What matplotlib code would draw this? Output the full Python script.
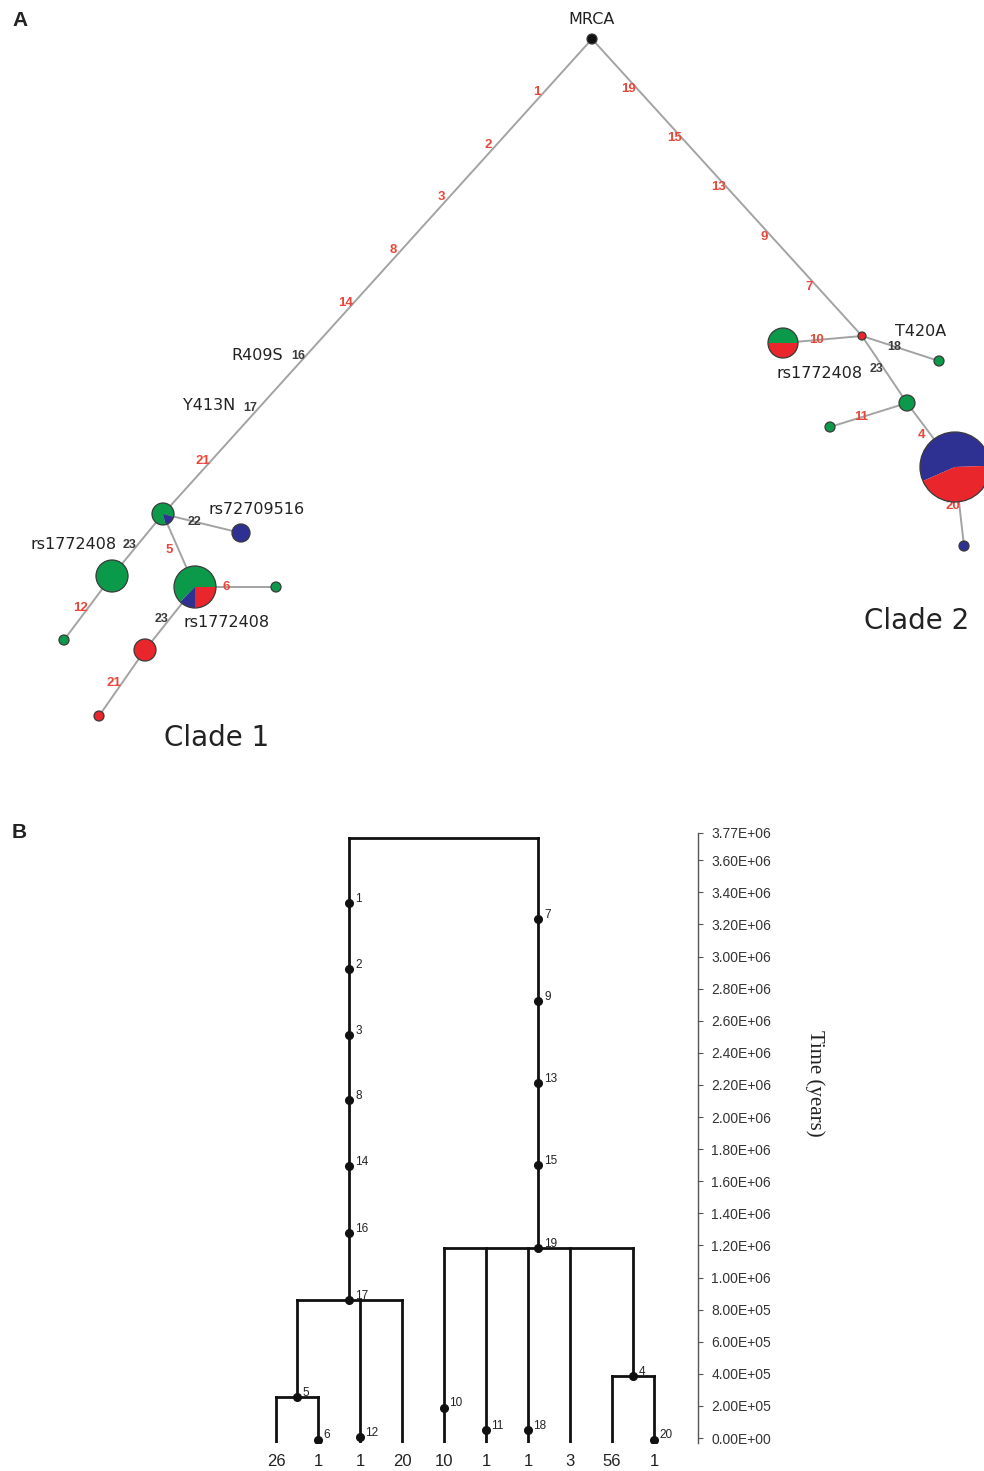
import matplotlib.pyplot as plt
from matplotlib.patches import Wedge, Circle
from matplotlib.transforms import blended_transform_factory

# ---------------- Panel A: haplotype network (data) ----------------
# haplotype composition: (colour, share) in drawing order
hap_comp = {
    'MRCA':         [('k', 1.0)],
    'c1':           [('g', 0.83), ('b', 0.17)],
    'c1_blue':      [('b', 1.0)],
    'c1_green':     [('g', 1.0)],
    'c1_green_tip': [('g', 1.0)],
    'c1_pie':       [('g', 0.625), ('b', 0.125), ('r', 0.25)],
    'c1_pie_tip':   [('g', 1.0)],
    'c1_red':       [('r', 1.0)],
    'c1_red_tip':   [('r', 1.0)],
    'c2':           [('r', 1.0)],
    'c2_half':      [('g', 0.5), ('r', 0.5)],
    'c2_tip18':     [('g', 1.0)],
    'c2_green':     [('g', 1.0)],
    'c2_tip11':     [('g', 1.0)],
    'c2_pie':       [('b', 0.56), ('r', 0.44)],
    'c2_tip20':     [('b', 1.0)],
}
# edges and the mutations on them
edges = [
    ('MRCA', 'c1', ['1', '2', '3', '8', '14', '16', '17', '21']),
    ('MRCA', 'c2', ['19', '15', '13', '9', '7']),
    ('c1', 'c1_blue', ['22']),
    ('c1', 'c1_green', ['23']),
    ('c1', 'c1_pie', ['5']),
    ('c1_green', 'c1_green_tip', ['12']),
    ('c1_pie', 'c1_pie_tip', ['6']),
    ('c1_pie', 'c1_red', ['23']),
    ('c1_red', 'c1_red_tip', ['21']),
    ('c2', 'c2_half', ['10']),
    ('c2', 'c2_tip18', ['18']),
    ('c2', 'c2_green', ['23']),
    ('c2_green', 'c2_tip11', ['11']),
    ('c2_green', 'c2_pie', ['4']),
    ('c2_pie', 'c2_tip20', ['20']),
]
dark_muts = {'16', '17', '18', '22', '23'}
hap_names = {'MRCA': 'MRCA', 'c1_blue': 'rs72709516', 'c1_green': 'rs1772408',
             'c1_pie': 'rs1772408', 'c2_half': 'rs1772408', 'c2_tip18': 'T420A'}
trunk_names = [('R409S', '16'), ('Y413N', '17')]

# ---------------- Panel A: layout (pixel space) ----------------
pos = {
    'MRCA': (592, 39), 'c1': (163, 514), 'c1_blue': (241, 533), 'c1_green': (112, 576),
    'c1_green_tip': (64, 640), 'c1_pie': (195, 587), 'c1_pie_tip': (276, 587),
    'c1_red': (145, 650), 'c1_red_tip': (99, 716), 'c2': (862, 336), 'c2_half': (783, 343),
    'c2_tip18': (939, 361), 'c2_green': (907, 403), 'c2_tip11': (830, 427),
    'c2_pie': (955, 467), 'c2_tip20': (964, 546),
}
radius = {
    'MRCA': 5, 'c1': 11, 'c1_blue': 9, 'c1_green': 16, 'c1_green_tip': 5, 'c1_pie': 21,
    'c1_pie_tip': 5, 'c1_red': 11, 'c1_red_tip': 5, 'c2': 4, 'c2_half': 15, 'c2_tip18': 5,
    'c2_green': 8, 'c2_tip11': 5, 'c2_pie': 35, 'c2_tip20': 5,
}
start_angle = {'c1': -15, 'c1_pie': 0, 'c2_half': 0, 'c2_pie': 2}
# label placement along single-mutation edges: (fraction, x shift)
edge_label_at = {
    'c1_blue': (0.4, 0), 'c1_green': (0.5, -8), 'c1_pie': (0.49, -9), 'c1_green_tip': (0.5, -7),
    'c1_pie_tip': (0.38, 0), 'c1_red': (0.51, -8), 'c1_red_tip': (0.5, -8),
    'c2_half': (0.58, 0), 'c2_tip18': (0.42, 0), 'c2_green': (0.5, -8),
    'c2_tip11': (0.6, 0), 'c2_pie': (0.5, -9), 'c2_tip20': (0.49, -7),
}
name_at = {'MRCA': (592, 19), 'c1_blue': (257, 510), 'c1_green': (74, 545),
           'c1_pie': (227, 623), 'c2_half': (820, 373), 'c2_tip18': (921, 331)}
trunk_name_at = {'R409S': (257, 355), 'Y413N': (209, 406)}

colours = {'g': '#0a9a4a', 'b': '#2e3192', 'r': '#e8262b', 'k': '#111111'}

W, H = 984, 1471
fig = plt.figure(figsize=(W / 100, H / 100), dpi=100)

axa = fig.add_axes([0, 1 - 790 / H, 1, 790 / H])
axa.set_xlim(0, W)
axa.set_ylim(790, 0)
axa.axis('off')

mut_font = ['Liberation Sans Narrow', 'Liberation Sans']
for a, b, muts in edges:
    (x0, y0), (x1, y1) = pos[a], pos[b]
    axa.plot([x0, x1], [y0, y1], color='#a3a3a3', lw=1.4, zorder=1)
    if len(muts) > 1:
        fracs = [(k + 1) / (len(muts) + 1) for k in range(len(muts))]
        shift = -8
    else:
        fracs = [edge_label_at[b][0]]
        shift = edge_label_at[b][1]
    for m, f in zip(muts, fracs):
        dark = m in dark_muts
        axa.text(x0 + (x1 - x0) * f + shift, y0 + (y1 - y0) * f, m,
                 ha='center', va='center', fontsize=9 if dark else 9.5, family=mut_font,
                 color='#3a3a3a' if dark else '#e8473a', weight='bold', zorder=2)

for name, parts in hap_comp.items():
    cx, cy = pos[name]
    r = radius[name]
    a0 = start_angle.get(name, 0)
    for col, share in parts:
        a1 = a0 + share * 360
        # y axis is inverted, so screen angles are mirrored
        axa.add_patch(Wedge((cx, cy), r, -a1, -a0, facecolor=colours[col],
                            edgecolor='none', zorder=3))
        a0 = a1
    axa.add_patch(Circle((cx, cy), r, facecolor='none', edgecolor='#3a3a3a',
                         lw=0.9, zorder=4))

for key, label in hap_names.items():
    x, y = name_at[key]
    axa.text(x, y, label, ha='center', va='center', fontsize=11.5, color='#222222')
for label, m in trunk_names:
    x, y = trunk_name_at[label]
    axa.text(x, y, label, ha='center', va='center', fontsize=11.5, color='#222222')

axa.text(217, 738, 'Clade 1', ha='center', va='center', fontsize=20, color='#222222')
axa.text(917, 621, 'Clade 2', ha='center', va='center', fontsize=20, color='#222222')

# ---------------- Panel B: dated tree (data) ----------------
leaf_counts = [26, 1, 1, 20, 10, 1, 1, 3, 56, 1]
tree = {
    'root': (['n17', 'n19'], 3.74e6),
    'n17': (['n5', 2, 3], 0.86e6),
    'n5': ([0, 1], 0.255e6),
    'n19': ([4, 5, 6, 7, 'n4'], 1.184e6),
    'n4': ([8, 9], 0.386e6),
}
mut_labels = ['1', '2', '3', '8', '14', '16', '17', '7', '9', '13', '15', '19',
              '5', '6', '12', '10', '11', '18', '4', '20']
mut_branch = ['n17'] * 7 + ['n19'] * 5 + ['n5', 1, 2, 4, 5, 6, 'n4', 9]
mut_age = [3.333e6, 2.922e6, 2.511e6, 2.106e6, 1.695e6, 1.277e6, 0.860e6,
           3.234e6, 2.723e6, 2.212e6, 1.701e6, 1.184e6,
           0.255e6, -0.01e6, 0.006e6, 0.19e6, 0.05e6, 0.05e6, 0.386e6, -0.01e6]
time_ticks = [0, 2e5, 4e5, 6e5, 8e5, 1e6, 1.2e6, 1.4e6, 1.6e6, 1.8e6, 2e6, 2.2e6,
              2.4e6, 2.6e6, 2.8e6, 3e6, 3.2e6, 3.4e6, 3.6e6, 3.77e6]

axb = fig.add_axes([230 / W, 28 / H, 468 / W, 610 / H])
axb.set_xlim(-1.095, 10.048)
axb.set_ylim(-0.031e6, 3.77e6)
bottom = axb.get_ylim()[0]


def node_x(n):
    if isinstance(n, int):
        return n
    xs = [node_x(c) for c in tree[n][0]]
    return (min(xs) + max(xs)) / 2


def node_age(n):
    return bottom if isinstance(n, int) else tree[n][1]


line_kw = dict(color='#111111', lw=2.0, solid_capstyle='projecting')
for n, (children, age) in tree.items():
    xs = [node_x(c) for c in children]
    axb.plot([min(xs), max(xs)], [age, age], **line_kw)
    for c, x in zip(children, xs):
        axb.plot([x, x], [age, node_age(c)], **line_kw)

for m, br, age in zip(mut_labels, mut_branch, mut_age):
    x = node_x(br)
    axb.plot(x, age, 'o', ms=5.5, color='#111111', zorder=3)
    axb.annotate(m, (x, age), xytext=(4, 3), textcoords='offset points',
                 fontsize=8.5, family='Liberation Sans', va='center', ha='left',
                 color='#222222')

tr = blended_transform_factory(axb.transData, axb.transAxes)
for i, c in enumerate(leaf_counts):
    axb.text(i, -0.03, str(c), transform=tr, ha='center', va='center',
             fontsize=12, family='Liberation Sans', color='#222222')

for s in ['left', 'top', 'bottom']:
    axb.spines[s].set_visible(False)
axb.spines['right'].set_color('#555555')
axb.spines['right'].set_linewidth(1.0)
axb.set_xticks([])
axb.yaxis.tick_right()
axb.set_yticks(time_ticks)
axb.set_yticklabels(['{:.2E}'.format(t) for t in time_ticks],
                    fontsize=10, family='Liberation Sans', color='#333333')
axb.tick_params(axis='y', direction='out', length=3.5, width=0.8, colors='#555555',
                pad=6, labelcolor='#333333')

fig.text(815 / W, 1 - 1083 / H, 'Time (years)', rotation=270, ha='center', va='center',
         fontsize=15, family='Liberation Serif', color='#222222')

fig.text(12 / W, 1 - 20 / H, 'A', ha='left', va='center', fontsize=15,
         weight='bold', family='Liberation Sans', color='#222222')
fig.text(12 / W, 1 - 832 / H, 'B', ha='left', va='center', fontsize=15,
         weight='bold', family='Liberation Sans', color='#222222')

fig.savefig('out.png', dpi=100)
